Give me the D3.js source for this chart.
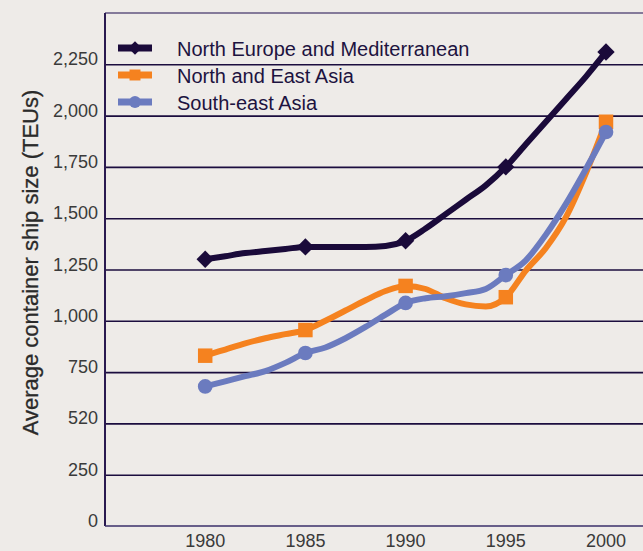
<!DOCTYPE html>
<html>
<head>
<meta charset="utf-8">
<script src="https://cdn.jsdelivr.net/npm/d3@7"></script>
<style>
  html, body { margin: 0; padding: 0; background: #eeebe8; }
  svg { display: block; }
</style>
</head>
<body>
<div id="chart"></div>
<script>
const years = d3.range(1980, 2001);
const northEurope = [1300, 1315, 1330, 1340, 1350, 1360, 1360, 1360, 1360, 1365, 1390, 1450, 1520, 1590, 1660, 1750, 1860, 1970, 2080, 2190, 2310];
const northEastAsia = [830, 860, 890, 915, 935, 955, 1000, 1050, 1100, 1145, 1170, 1155, 1110, 1080, 1070, 1115, 1245, 1355, 1505, 1720, 1970];
const southEastAsia = [680, 705, 730, 755, 795, 843, 870, 915, 970, 1030, 1087, 1110, 1120, 1135, 1155, 1223, 1295, 1420, 1570, 1740, 1920];
const seriesNames = ['North Europe and Mediterranean', 'North and East Asia', 'South-east Asia'];
const yTicks = [0, 250, 500, 750, 1000, 1250, 1500, 1750, 2000, 2250];
const yTickLabels = ['0', '250', '520', '750', '1,000', '1,250', '1,500', '1,750', '2,000', '2,250'];
const xTicks = [1980, 1985, 1990, 1995, 2000];

const colors = ['#1a0a3a', '#f5821f', '#6b7bbf'];
const shapes = [d3.symbolSquare, d3.symbolSquare, d3.symbolCircle];

const W = 643, H = 551;
const plot = { left: 105, right: 643, top: 13, bottom: 526 };

const svg = d3.select('#chart').append('svg').attr('width', W).attr('height', H);
svg.append('rect').attr('width', W).attr('height', H).attr('fill', '#eeebe8');

const x = d3.scaleLinear().domain([1975, 2000]).range([plot.left, 606]);
const y = d3.scaleLinear().domain([0, 2500]).range([plot.bottom, plot.top]);

// grid lines
svg.append('g')
	.attr('transform', `translate(${plot.left},0)`)
	.call(d3.axisLeft(y).tickValues(yTicks.slice(1)).tickSize(-(plot.right - plot.left)).tickFormat(''))
	.call((g) => g.select('.domain').remove())
	.selectAll('line')
	.attr('stroke', '#1b0d3e')
	.attr('stroke-width', 1.6);

// top frame line, left axis, bottom axis
svg.append('line').attr('x1', plot.left).attr('x2', plot.right).attr('y1', plot.top).attr('y2', plot.top)
	.attr('stroke', '#847a9a').attr('stroke-width', 2);
svg.append('line').attr('x1', plot.left).attr('x2', plot.left).attr('y1', plot.top).attr('y2', plot.bottom)
	.attr('stroke', '#2a1a50').attr('stroke-width', 2);
svg.append('line').attr('x1', plot.left).attr('x2', plot.right).attr('y1', plot.bottom).attr('y2', plot.bottom)
	.attr('stroke', '#3a2f6a').attr('stroke-width', 1.6);

// y tick labels
svg.append('g')
	.selectAll('text')
	.data(yTicks)
	.enter()
	.append('text')
	.attr('x', 98)
	.attr('y', (d) => y(d) + 1)
	.attr('text-anchor', 'end')
	.attr('font-family', '"Liberation Sans Narrow", "Liberation Sans", Arial, sans-serif')
	.attr('font-size', 18)
	.attr('fill', '#3a3a3a')
	.text((d, i) => yTickLabels[i]);

// x tick labels
svg.append('g')
	.selectAll('text')
	.data(xTicks)
	.enter()
	.append('text')
	.attr('x', (d) => x(d))
	.attr('y', 547)
	.attr('text-anchor', 'middle')
	.attr('font-family', '"Liberation Sans Narrow", "Liberation Sans", Arial, sans-serif')
	.attr('font-size', 18)
	.attr('fill', '#3a3a3a')
	.text((d) => d);

// y axis title
svg.append('text')
	.attr('transform', `translate(38,${(plot.top + plot.bottom) / 2 - 7}) rotate(-90)`)
	.attr('text-anchor', 'middle')
	.attr('font-family', '"Liberation Sans", Arial, sans-serif')
	.attr('font-size', 22)
	.attr('fill', '#2a2a2a')
	.attr('stroke', '#2a2a2a')
	.attr('stroke-width', 0.3)
	.text('Average container ship size (TEUs)');

const allSeries = [northEurope, northEastAsia, southEastAsia];
const line = d3.line()
	.x((d) => x(d.year))
	.y((d) => y(d.value))
	.curve(d3.curveMonotoneX);

const markerSizes = [150, 210, 170];

allSeries.forEach((vals, i) => {
	const pts = years.map((yr, j) => ({ year: yr, value: vals[j] }));
	svg.append('path')
		.datum(pts)
		.attr('fill', 'none')
		.attr('stroke', colors[i])
		.attr('stroke-width', 6)
		.attr('stroke-linejoin', 'round')
		.attr('d', line);
	svg.append('g')
		.selectAll('path')
		.data(pts.filter((p) => xTicks.includes(p.year)))
		.enter()
		.append('path')
		.attr('transform', (d) => `translate(${x(d.year)},${y(d.value)})${i === 0 ? ' rotate(45)' : ''}`)
		.attr('d', d3.symbol().type(shapes[i]).size(markerSizes[i]))
		.attr('fill', colors[i]);
});

// legend
const legendRows = [48, 75, 102];
const legend = svg.append('g');
seriesNames.forEach((name, i) => {
	const cy = legendRows[i];
	legend.append('line')
		.attr('x1', 118).attr('x2', 152).attr('y1', cy).attr('y2', cy)
		.attr('stroke', colors[i]).attr('stroke-width', 7);
	legend.append('path')
		.attr('transform', `translate(135,${cy})${i === 0 ? ' rotate(45)' : ''}`)
		.attr('d', d3.symbol().type(shapes[i]).size(i === 0 ? 90 : i === 1 ? 120 : 110))
		.attr('fill', colors[i]);
	legend.append('text')
		.attr('x', 177)
		.attr('y', cy + 8)
		.attr('font-family', '"Liberation Sans", Arial, sans-serif')
		.attr('font-size', 20)
		.attr('fill', '#1d1340')
		.text(name);
});
</script>
</body>
</html>
